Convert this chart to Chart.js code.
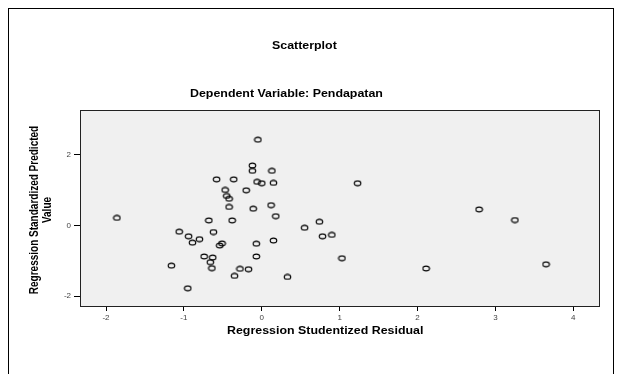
<!DOCTYPE html>
<html>
<head>
<meta charset="utf-8">
<script src="https://cdn.jsdelivr.net/npm/chart.js@4/dist/chart.umd.min.js"></script>
<style>
html, body { margin: 0; padding: 0; background: #fff; }
#wrap { position: relative; width: 622px; height: 374px; overflow: hidden; }
#frame { position: absolute; left: 8px; top: 8px; width: 606px; height: 420px; border: 1px solid #000; box-sizing: border-box; }
canvas { position: absolute; left: 0; top: 0; }
</style>
</head>
<body>
<div id="wrap">
  <div id="frame"></div>
  <canvas id="chart" width="622" height="374"></canvas>
</div>
<script>
// values
const residual = [-0.05, -0.12, -0.12, 0.13, -0.58, -0.36, -0.06, 0.00, 0.15, -0.47,
                  -0.20, -0.45, -0.42, -0.42, -0.11, 0.12, 0.18, -0.68, -0.38, -1.06,
                  -0.62, -0.94, -0.80, -0.89, -0.51, -0.54, -0.07, 0.15, 0.55, 0.74,
                  0.78, 0.90, 1.03, -0.74, -0.63, -0.66, -0.64, -1.16, -0.07, -0.28,
                  -0.17, -0.35, 0.33, -0.95, 1.23, 2.79, 3.25, 2.11, 3.65, -1.86];
const predicted = [2.42, 1.69, 1.54, 1.54, 1.30, 1.30, 1.23, 1.19, 1.20, 1.00,
                   0.99, 0.83, 0.75, 0.52, 0.47, 0.57, 0.26, 0.14, 0.14, -0.18,
                   -0.19, -0.31, -0.39, -0.49, -0.51, -0.57, -0.52, -0.43, -0.07, 0.10,
                   -0.31, -0.27, -0.93, -0.88, -0.91, -1.04, -1.21, -1.14, -0.88, -1.23,
                   -1.24, -1.43, -1.46, -1.78, 1.19, 0.45, 0.15, -1.22, -1.10, 0.21];
const xTicks = [-2, -1, 0, 1, 2, 3, 4];
const yTicks = [-2, 0, 2];

const chartTitle = 'Scatterplot';
const chartSubtitle = 'Dependent Variable: Pendapatan';
const xTitle = 'Regression Studentized Residual';
const yTitle = ['Regression Standardized Predicted', 'Value'];

// open circle marker, a bit wider than tall like the original
const dot = document.createElement('canvas');
dot.width = 9; dot.height = 7;
const dc = dot.getContext('2d');
dc.strokeStyle = '#000';
dc.lineWidth = 1.1;
dc.beginPath();
dc.ellipse(4.5, 3.5, 3.3, 2.4, 0, 0, Math.PI * 2);
dc.stroke();

const STRETCH = 1.24;
function wideText(ctx, text, x, y, align) {
    ctx.save();
    ctx.translate(x, y);
    ctx.scale(STRETCH, 1);
    ctx.textAlign = align;
    ctx.fillText(text, 0, 0);
    ctx.restore();
}

const framePlugin = {
    id: 'frame',
    beforeDraw(chart) {
        const { ctx, chartArea: a } = chart;
        ctx.save();
        ctx.fillStyle = '#f0f0f0';
        ctx.fillRect(a.left, a.top, a.right - a.left, a.bottom - a.top);
        ctx.restore();
    },
    afterDraw(chart) {
        const { ctx, chartArea: a } = chart;
        ctx.save();
        ctx.strokeStyle = '#222';
        ctx.lineWidth = 1;
        ctx.strokeRect(a.left + 0.5, a.top + 0.5, a.right - a.left, a.bottom - a.top);

        ctx.fillStyle = '#000';
        ctx.font = 'bold 10px "Liberation Sans", Arial, sans-serif';
        ctx.textBaseline = 'alphabetic';
        wideText(ctx, chartTitle, 272, 49, 'left');
        wideText(ctx, chartSubtitle, 190, 97, 'left');
        wideText(ctx, xTitle, 227, 334, 'left');

        // y title: two lines, rotated
        ctx.textBaseline = 'middle';
        ctx.translate(0, 210);
        ctx.scale(STRETCH, 1);
        ctx.rotate(-Math.PI / 2);
        ctx.textAlign = 'center';
        ctx.fillText(yTitle[0], 0, 35 / STRETCH);
        ctx.fillText(yTitle[1], 0, 48 / STRETCH);
        ctx.restore();
    }
};

new Chart(document.getElementById('chart'), {
    type: 'scatter',
    data: {
        datasets: [{
            data: residual.map((x, i) => ({ x: x, y: predicted[i] })),
            pointStyle: dot,
            pointRadius: 4,
            showLine: false
        }]
    },
    options: {
        responsive: false,
        animation: false,
        devicePixelRatio: 1,
        layout: { padding: { top: 110, right: 23, left: 0, bottom: 0 } },
        plugins: { legend: { display: false }, tooltip: { enabled: false } },
        scales: {
            x: {
                type: 'linear',
                min: -2.334,
                max: 4.33,
                afterBuildTicks: s => { s.ticks = xTicks.map(v => ({ value: v })); },
                afterFit: s => { s.height = 68; },
                grid: { drawOnChartArea: false, drawTicks: true, tickLength: 5, color: '#000' },
                border: { display: true, color: '#222' },
                ticks: { font: { size: 8, family: '"Liberation Sans", Arial' }, color: '#444', padding: 2, maxRotation: 0, autoSkip: false }
            },
            y: {
                type: 'linear',
                min: -2.28,
                max: 3.26,
                afterBuildTicks: s => { s.ticks = yTicks.map(v => ({ value: v })); },
                afterFit: s => { s.width = 80; },
                grid: { drawOnChartArea: false, drawTicks: true, tickLength: 6, color: '#000' },
                border: { display: true, color: '#222' },
                ticks: { font: { size: 8, family: '"Liberation Sans", Arial' }, color: '#444', padding: 3, autoSkip: false }
            }
        }
    },
    plugins: [framePlugin]
});
</script>
</body>
</html>
